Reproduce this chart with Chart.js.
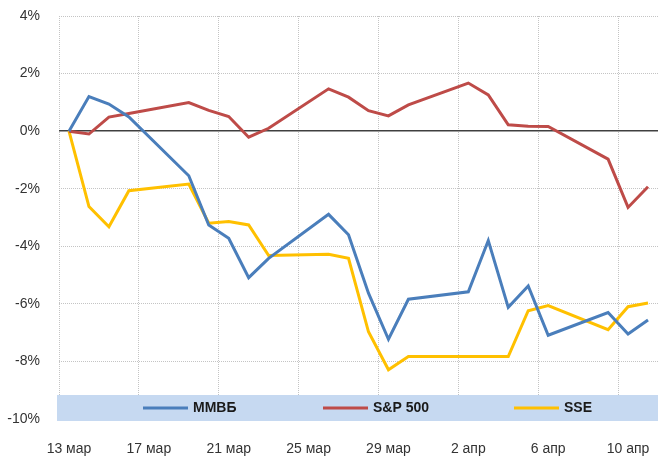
<!DOCTYPE html>
<html>
<head>
<meta charset="utf-8">
<script src="https://cdn.jsdelivr.net/npm/chart.js@4"></script>
<style>
  body { margin: 0; background: #fff; }
  #chart { display: block; }
</style>
</head>
<body>
<canvas id="chart" width="658" height="457"></canvas>
<script>
const days = [
  '13 мар', '14 мар', '15 мар', '16 мар', '17 мар', '18 мар', '19 мар', '20 мар',
  '21 мар', '22 мар', '23 мар', '24 мар', '25 мар', '26 мар', '27 мар', '28 мар',
  '29 мар', '30 мар', '31 мар', '1 апр', '2 апр', '3 апр', '4 апр', '5 апр',
  '6 апр', '7 апр', '8 апр', '9 апр', '10 апр', '11 апр'
];

// % change, null = no trading that day
const micex = [0, 1.20, 0.94, 0.49, null, null, -1.55, -3.26, -3.72, -5.09, -4.42, null, null, -2.89, -3.60,
  -5.63, -7.23, -5.84, null, null, -5.58, -3.80, -6.12, -5.38, -7.09, null, null, -6.30, -7.05, -6.56];
const sp500 = [0, -0.10, 0.49, 0.61, null, null, 0.99, 0.72, 0.51, -0.21, 0.10, null, null, 1.47, 1.18,
  0.71, 0.53, 0.91, null, null, 1.67, 1.26, 0.22, 0.17, 0.16, null, null, -0.97, -2.65, -1.93];
const sse = [0, -2.62, -3.32, -2.07, null, null, -1.84, -3.20, -3.14, -3.26, -4.32, null, null, -4.28, -4.42,
  -6.97, -8.29, -7.83, null, null, -7.83, -7.83, -7.83, -6.24, -6.06, null, null, -6.90, -6.10, -5.97];

const seriesNames = ['ММВБ', 'S&P 500', 'SSE'];
const labelEvery = 4;

const tickFont = { family: '"Liberation Sans", Arial, sans-serif', size: 14 };
const clear = 'rgba(0,0,0,0)';
const gridGrey = '#c4c4c4';

// legend sits on a light blue band inside the bottom of the plot
const bandLegend = {
  id: 'bandLegend',
  beforeDatasetsDraw(chart) {
    const { ctx, chartArea } = chart;
    const top = chartArea.bottom - 24;
    ctx.save();
    ctx.fillStyle = '#c6d9f1';
    ctx.fillRect(chartArea.left - 2, top, chart.width - chartArea.left + 2, 26);
    const y = top + 13;
    const starts = [143, 323, 514];
    ctx.font = 'bold 14px "Liberation Sans", Arial, sans-serif';
    ctx.textBaseline = 'middle';
    chart.data.datasets.forEach((ds, i) => {
      const x = starts[i];
      ctx.strokeStyle = ds.borderColor;
      ctx.lineWidth = 3;
      ctx.beginPath();
      ctx.moveTo(x, y);
      ctx.lineTo(x + 45, y);
      ctx.stroke();
      ctx.fillStyle = '#1a1a1a';
      ctx.fillText(ds.label, x + 50, y);
    });
    ctx.restore();
  }
};

const lineStyle = { borderWidth: 3, pointRadius: 0, tension: 0, spanGaps: true, fill: false };

new Chart(document.getElementById('chart'), {
  type: 'line',
  data: {
    labels: days,
    datasets: [
      { label: seriesNames[0], data: micex, borderColor: '#4a7ebb', ...lineStyle },
      { label: seriesNames[1], data: sp500, borderColor: '#be4b48', ...lineStyle },
      { label: seriesNames[2], data: sse, borderColor: '#ffc000', ...lineStyle }
    ]
  },
  options: {
    responsive: false,
    animation: false,
    layout: { padding: { top: 16, right: 0 } },
    plugins: {
      legend: { display: false },
      tooltip: { enabled: false }
    },
    scales: {
      x: {
        offset: true,
        grid: {
          offset: true,
          drawTicks: true,
          tickLength: 22,
          tickColor: clear,
          color: (c) => (c.index % labelEvery === 0 ? gridGrey : clear)
        },
        border: { display: false, dash: [1, 1] },
        ticks: {
          autoSkip: false,
          maxRotation: 0,
          minRotation: 0,
          padding: 0,
          color: '#333',
          font: tickFont,
          callback: (v, i) => (i % labelEvery === 0 ? days[i] : '')
        },
        afterFit: (s) => { s.height = 38; }
      },
      y: {
        min: -10,
        max: 4,
        grid: {
          drawTicks: true,
          tickLength: 19,
          tickColor: clear,
          color: (c) => (c.tick && c.tick.value === 0 ? '#404040' : gridGrey),
          lineWidth: (c) => (c.tick && c.tick.value === 0 ? 1.6 : 1)
        },
        border: {
          display: false,
          dash: (c) => (c.tick && c.tick.value === 0 ? [] : [1, 1])
        },
        ticks: {
          stepSize: 2,
          padding: 0,
          color: '#333',
          font: tickFont,
          callback: (v) => v + '%'
        },
        afterFit: (s) => { s.width = 59; }
      }
    }
  },
  plugins: [bandLegend]
});
</script>
</body>
</html>
